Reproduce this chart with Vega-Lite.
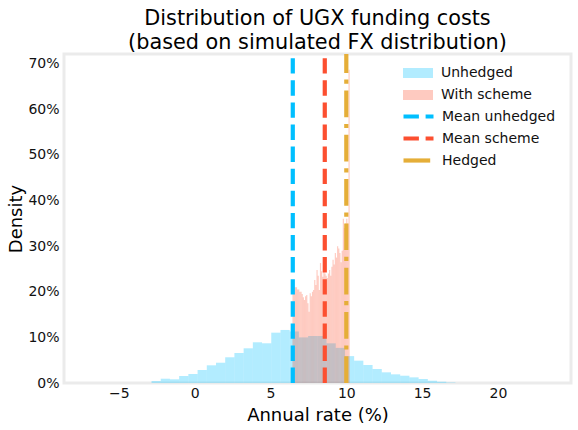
{
  "$schema": "https://vega.github.io/schema/vega-lite/v6.json",
  "width": 507,
  "height": 329,
  "autosize": "none",
  "padding": {"left": 64, "top": 54, "right": 7, "bottom": 47},
  "background": "white",
  "config": {
    "font": "DejaVu Sans",
    "view": {"stroke": "#ebebeb", "strokeWidth": 3},
    "axis": {
      "grid": false, "domain": false, "ticks": false, "tickSize": 0,
      "labelFont": "DejaVu Sans", "labelFontSize": 14, "labelColor": "#111",
      "titleFont": "DejaVu Sans", "titleFontSize": 18, "titleFontWeight": "normal", "titleColor": "#000"
    },
    "legend": {
      "labelFont": "DejaVu Sans", "labelFontSize": 14, "labelColor": "#111",
      "symbolSize": 100, "labelOffset": 16, "rowPadding": 5, "padding": 0
    }
  },
  "title": {
    "text": ["Distribution of UGX funding costs", "(based on simulated FX distribution)"],
    "font": "DejaVu Sans", "fontSize": 20.8, "fontWeight": "normal", "color": "#000",
    "anchor": "middle", "lineHeight": 24, "offset": -2
  },
  "datasets": {
    "hist": [
      {"series": "Unhedged", "lo": -2.8475, "hi": -2.24, "density": 0.0044},
      {"series": "Unhedged", "lo": -2.24, "hi": -1.6325, "density": 0.0094},
      {"series": "Unhedged", "lo": -1.6325, "hi": -1.025, "density": 0.0081},
      {"series": "Unhedged", "lo": -1.025, "hi": -0.4175, "density": 0.0154},
      {"series": "Unhedged", "lo": -0.4175, "hi": 0.19, "density": 0.0197},
      {"series": "Unhedged", "lo": 0.19, "hi": 0.7975, "density": 0.0285},
      {"series": "Unhedged", "lo": 0.7975, "hi": 1.405, "density": 0.0388},
      {"series": "Unhedged", "lo": 1.405, "hi": 2.0125, "density": 0.0445},
      {"series": "Unhedged", "lo": 2.0125, "hi": 2.62, "density": 0.0564},
      {"series": "Unhedged", "lo": 2.62, "hi": 3.2275, "density": 0.0658},
      {"series": "Unhedged", "lo": 3.2275, "hi": 3.835, "density": 0.0761},
      {"series": "Unhedged", "lo": 3.835, "hi": 4.4425, "density": 0.0893},
      {"series": "Unhedged", "lo": 4.4425, "hi": 5.05, "density": 0.0871},
      {"series": "Unhedged", "lo": 5.05, "hi": 5.6575, "density": 0.1104},
      {"series": "Unhedged", "lo": 5.6575, "hi": 6.265, "density": 0.1163},
      {"series": "Unhedged", "lo": 6.265, "hi": 6.8725, "density": 0.113},
      {"series": "Unhedged", "lo": 6.8725, "hi": 7.48, "density": 0.100},
      {"series": "Unhedged", "lo": 7.48, "hi": 8.0875, "density": 0.103},
      {"series": "Unhedged", "lo": 8.0875, "hi": 8.695, "density": 0.103},
      {"series": "Unhedged", "lo": 8.695, "hi": 9.3025, "density": 0.087},
      {"series": "Unhedged", "lo": 9.3025, "hi": 9.91, "density": 0.077},
      {"series": "Unhedged", "lo": 9.91, "hi": 10.5175, "density": 0.059},
      {"series": "Unhedged", "lo": 10.5175, "hi": 11.125, "density": 0.049},
      {"series": "Unhedged", "lo": 11.125, "hi": 11.7325, "density": 0.0395},
      {"series": "Unhedged", "lo": 11.7325, "hi": 12.34, "density": 0.0307},
      {"series": "Unhedged", "lo": 12.34, "hi": 12.9475, "density": 0.0234},
      {"series": "Unhedged", "lo": 12.9475, "hi": 13.555, "density": 0.019},
      {"series": "Unhedged", "lo": 13.555, "hi": 14.1625, "density": 0.016},
      {"series": "Unhedged", "lo": 14.1625, "hi": 14.77, "density": 0.0124},
      {"series": "Unhedged", "lo": 14.77, "hi": 15.3775, "density": 0.0088},
      {"series": "Unhedged", "lo": 15.3775, "hi": 15.985, "density": 0.005},
      {"series": "Unhedged", "lo": 15.985, "hi": 16.5925, "density": 0.0029},
      {"series": "Unhedged", "lo": 16.5925, "hi": 17.2, "density": 0.001},
      {"series": "With scheme", "lo": 6.4500, "hi": 6.5254, "density": 0.21},
      {"series": "With scheme", "lo": 6.5254, "hi": 6.6008, "density": 0.21},
      {"series": "With scheme", "lo": 6.6008, "hi": 6.6762, "density": 0.21},
      {"series": "With scheme", "lo": 6.6762, "hi": 6.7516, "density": 0.21},
      {"series": "With scheme", "lo": 6.7516, "hi": 6.8270, "density": 0.205},
      {"series": "With scheme", "lo": 6.8270, "hi": 6.9024, "density": 0.205},
      {"series": "With scheme", "lo": 6.9024, "hi": 6.9778, "density": 0.20},
      {"series": "With scheme", "lo": 6.9778, "hi": 7.0532, "density": 0.20},
      {"series": "With scheme", "lo": 7.0532, "hi": 7.1286, "density": 0.195},
      {"series": "With scheme", "lo": 7.1286, "hi": 7.2040, "density": 0.188},
      {"series": "With scheme", "lo": 7.2040, "hi": 7.2794, "density": 0.182},
      {"series": "With scheme", "lo": 7.2794, "hi": 7.3548, "density": 0.19},
      {"series": "With scheme", "lo": 7.3548, "hi": 7.4302, "density": 0.193},
      {"series": "With scheme", "lo": 7.4302, "hi": 7.5056, "density": 0.175},
      {"series": "With scheme", "lo": 7.5056, "hi": 7.5810, "density": 0.156},
      {"series": "With scheme", "lo": 7.5810, "hi": 7.6564, "density": 0.197},
      {"series": "With scheme", "lo": 7.6564, "hi": 7.7318, "density": 0.19},
      {"series": "With scheme", "lo": 7.7318, "hi": 7.8072, "density": 0.20},
      {"series": "With scheme", "lo": 7.8072, "hi": 7.8826, "density": 0.204},
      {"series": "With scheme", "lo": 7.8826, "hi": 7.9580, "density": 0.226},
      {"series": "With scheme", "lo": 7.9580, "hi": 8.0334, "density": 0.215},
      {"series": "With scheme", "lo": 8.0334, "hi": 8.1088, "density": 0.248},
      {"series": "With scheme", "lo": 8.1088, "hi": 8.1842, "density": 0.235},
      {"series": "With scheme", "lo": 8.1842, "hi": 8.2596, "density": 0.204},
      {"series": "With scheme", "lo": 8.2596, "hi": 8.3350, "density": 0.263},
      {"series": "With scheme", "lo": 8.3350, "hi": 8.4104, "density": 0.245},
      {"series": "With scheme", "lo": 8.4104, "hi": 8.4858, "density": 0.233},
      {"series": "With scheme", "lo": 8.4858, "hi": 8.5612, "density": 0.25},
      {"series": "With scheme", "lo": 8.5612, "hi": 8.6366, "density": 0.24},
      {"series": "With scheme", "lo": 8.6366, "hi": 8.7120, "density": 0.235},
      {"series": "With scheme", "lo": 8.7120, "hi": 8.7874, "density": 0.23},
      {"series": "With scheme", "lo": 8.7874, "hi": 8.8628, "density": 0.24},
      {"series": "With scheme", "lo": 8.8628, "hi": 8.9382, "density": 0.248},
      {"series": "With scheme", "lo": 8.9382, "hi": 9.0136, "density": 0.235},
      {"series": "With scheme", "lo": 9.0136, "hi": 9.0890, "density": 0.255},
      {"series": "With scheme", "lo": 9.0890, "hi": 9.1644, "density": 0.27},
      {"series": "With scheme", "lo": 9.1644, "hi": 9.2398, "density": 0.26},
      {"series": "With scheme", "lo": 9.2398, "hi": 9.3152, "density": 0.285},
      {"series": "With scheme", "lo": 9.3152, "hi": 9.3906, "density": 0.275},
      {"series": "With scheme", "lo": 9.3906, "hi": 9.4660, "density": 0.30},
      {"series": "With scheme", "lo": 9.4660, "hi": 9.5414, "density": 0.295},
      {"series": "With scheme", "lo": 9.5414, "hi": 9.6168, "density": 0.285},
      {"series": "With scheme", "lo": 9.6168, "hi": 9.6922, "density": 0.265},
      {"series": "With scheme", "lo": 9.6922, "hi": 9.7676, "density": 0.29},
      {"series": "With scheme", "lo": 9.7676, "hi": 9.8430, "density": 0.36},
      {"series": "With scheme", "lo": 9.8430, "hi": 9.9184, "density": 0.34},
      {"series": "With scheme", "lo": 9.9184, "hi": 9.9938, "density": 0.35},
      {"series": "With scheme", "lo": 9.9938, "hi": 10.0692, "density": 0.36},
      {"series": "With scheme", "lo": 10.0692, "hi": 10.1446, "density": 0.35},
      {"series": "With scheme", "lo": 10.1446, "hi": 10.2200, "density": 0.687}
    ],
    "lines": [
      {"line": "Mean unhedged", "value": 6.47},
      {"line": "Mean scheme", "value": 8.58},
      {"line": "Hedged", "value": 10.0}
    ]
  },
  "layer": [
    {
      "data": {"name": "hist"},
      "mark": {"type": "bar", "opacity": 0.3},
      "encoding": {
        "x": {
          "field": "lo", "type": "quantitative",
          "scale": {"domain": [-8.62, 24.82], "nice": false, "zero": false},
          "axis": {"values": [-5, 0, 5, 10, 15, 20], "title": "Annual rate (%)", "labelPadding": 3, "titlePadding": 6}
        },
        "x2": {"field": "hi"},
        "y": {
          "field": "density", "type": "quantitative",
          "scale": {"domain": [0, 0.7214], "nice": false},
          "axis": {"values": [0, 0.1, 0.2, 0.3, 0.4, 0.5, 0.6, 0.7], "format": ".0%", "title": "Density", "labelPadding": 5, "titlePadding": 2}
        },
        "y2": {"datum": 0},
        "color": {
          "field": "series", "type": "nominal",
          "scale": {"domain": ["Unhedged", "With scheme"], "range": ["#00bfff", "#fc4f30"]},
          "legend": {"title": null, "orient": "none", "legendX": 347, "legendY": 12, "rowPadding": 8, "symbolType": "M-3,-1H3V1H-3Z", "symbolOpacity": 0.3}
        }
      }
    },
    {
      "data": {"name": "lines"},
      "mark": {"type": "rule", "strokeWidth": 4.2},
      "encoding": {
        "x": {"field": "value", "type": "quantitative"},
        "y": {"datum": 0},
        "y2": {"datum": 0.7214},
        "stroke": {
          "field": "line", "type": "nominal",
          "scale": {"domain": ["Mean unhedged", "Mean scheme", "Hedged"], "range": ["#00bfff", "#fc4f30", "#e5ae38"]},
          "legend": {"title": null, "orient": "none", "legendX": 347, "legendY": 55, "symbolType": "M-3,0H3", "symbolStrokeWidth": 4.2}
        },
        "strokeDash": {
          "field": "line", "type": "nominal",
          "scale": {"domain": ["Mean unhedged", "Mean scheme", "Hedged"], "range": [[15.4, 6.7], [15.4, 6.7], [26.7, 6.7, 4.2, 6.7]]},
          "legend": {"title": null, "orient": "none", "legendX": 347, "legendY": 55, "symbolType": "M-3,0H3", "symbolStrokeWidth": 4.2}
        }
      }
    }
  ]
}
